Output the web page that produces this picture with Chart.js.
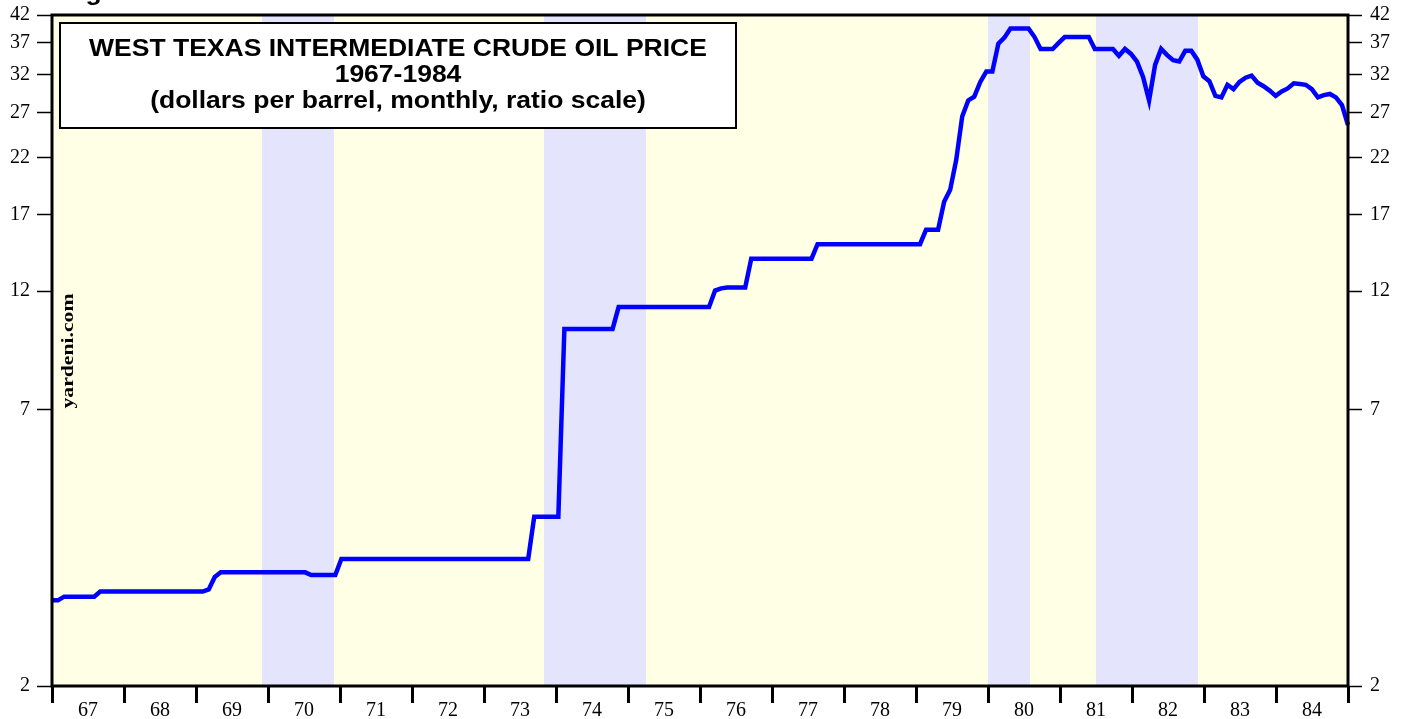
<!DOCTYPE html>
<html>
<head>
<meta charset="utf-8">
<title>West Texas Intermediate Crude Oil Price 1967-1984</title>
<script src="https://cdn.jsdelivr.net/npm/chart.js@4.4.1/dist/chart.umd.min.js"></script>
<style>
  html, body { margin: 0; padding: 0; background: #fff; overflow: hidden; }
  canvas { display: block; }
</style>
</head>
<body>
<canvas id="oilChart" width="1407" height="719"></canvas>
<script>
// tahun pada sumbu bawah
const yearLabels = ["67", "68", "69", "70", "71", "72", "73", "74", "75",
  "76", "77", "78", "79", "80", "81", "82", "83", "84"];
const firstYear = 1967;

// harga WTI bulanan (dolar per barel), Jan 1967 - Des 1984
const wtiPrice = [
  2.95, 2.95, 3.00, 3.00, 3.00, 3.00, 3.00, 3.00, 3.07, 3.07, 3.07, 3.07,       // 1967
  3.07, 3.07, 3.07, 3.07, 3.07, 3.07, 3.07, 3.07, 3.07, 3.07, 3.07, 3.07,       // 1968
  3.07, 3.07, 3.10, 3.28, 3.35, 3.35, 3.35, 3.35, 3.35, 3.35, 3.35, 3.35,       // 1969
  3.35, 3.35, 3.35, 3.35, 3.35, 3.35, 3.35, 3.31, 3.31, 3.31, 3.31, 3.31,       // 1970
  3.56, 3.56, 3.56, 3.56, 3.56, 3.56, 3.56, 3.56, 3.56, 3.56, 3.56, 3.56,       // 1971
  3.56, 3.56, 3.56, 3.56, 3.56, 3.56, 3.56, 3.56, 3.56, 3.56, 3.56, 3.56,       // 1972
  3.56, 3.56, 3.56, 3.56, 3.56, 3.56, 3.56, 3.56, 4.31, 4.31, 4.31, 4.31,       // 1973
  4.31, 10.11, 10.11, 10.11, 10.11, 10.11, 10.11, 10.11, 10.11, 10.11, 11.16, 11.16, // 1974
  11.16, 11.16, 11.16, 11.16, 11.16, 11.16, 11.16, 11.16, 11.16, 11.16, 11.16, 11.16, // 1975
  11.16, 11.16, 12.03, 12.15, 12.20, 12.20, 12.20, 12.20, 13.90, 13.90, 13.90, 13.90, // 1976
  13.90, 13.90, 13.90, 13.90, 13.90, 13.90, 13.90, 14.85, 14.85, 14.85, 14.85, 14.85, // 1977
  14.85, 14.85, 14.85, 14.85, 14.85, 14.85, 14.85, 14.85, 14.85, 14.85, 14.85, 14.85, // 1978
  14.85, 15.85, 15.85, 15.85, 18.00, 19.00, 21.75, 26.50, 28.50, 29.00, 31.00, 32.50, // 1979
  32.50, 36.90, 37.90, 39.50, 39.50, 39.50, 39.50, 38.00, 36.00, 36.00, 36.00, 37.00, // 1980
  38.00, 38.00, 38.00, 38.00, 38.00, 36.00, 36.00, 36.00, 36.00, 34.90, 36.00, 35.20, // 1981
  34.00, 31.70, 28.50, 33.50, 36.00, 35.00, 34.20, 34.00, 35.70, 35.70, 34.30, 31.80, // 1982
  31.10, 29.10, 28.90, 30.60, 30.00, 31.00, 31.60, 31.90, 30.90, 30.40, 29.80, 29.10, // 1983
  29.70, 30.10, 30.80, 30.70, 30.60, 30.00, 28.90, 29.20, 29.35, 28.90, 27.90, 25.50  // 1984
];

// label skala rasio
const yTicks = [2, 7, 12, 17, 22, 27, 32, 37, 42];

// resesi (bulan awal, bulan akhir)
const recessions = [
  ["1969-12", "1970-11"],
  ["1973-11", "1975-03"],
  ["1980-01", "1980-07"],
  ["1981-07", "1982-11"],
];

const titleLines = [
  "WEST TEXAS INTERMEDIATE CRUDE OIL PRICE",
  "1967-1984",
  "(dollars per barrel, monthly, ratio scale)",
];

// label kategori bulanan
const monthLabels = [];
yearLabels.forEach((_, yi) => {
  for (let m = 1; m <= 12; m++) {
    monthLabels.push(`${firstYear + yi}-${String(m).padStart(2, "0")}`);
  }
});

// "1969-12" -> tahun sejak 1967 (awal bulan)
const monthToYears = (s) => {
  const [y, m] = s.split("-").map(Number);
  return y - firstYear + (m - 1) / 12;
};

const serif = "'Liberation Serif', 'Times New Roman', serif";
const sans = "'Liberation Sans', Arial, sans-serif";

const chartDecor = {
  id: "chartDecor",
  beforeDraw(chart) {
    const { ctx, chartArea: a, scales } = chart;
    ctx.save();
    ctx.fillStyle = "#ffffff";
    ctx.fillRect(0, 0, chart.width, chart.height);
    ctx.fillStyle = "rgb(255,255,230)";
    ctx.fillRect(a.left, a.top, a.right - a.left, a.bottom - a.top);
    ctx.fillStyle = "rgb(228,228,252)";
    recessions.forEach(([s, e]) => {
      const x0 = scales.xYear.getPixelForValue(monthToYears(s));
      const x1 = scales.xYear.getPixelForValue(monthToYears(e) + 1 / 12);
      ctx.fillRect(x0, a.top, x1 - x0, a.bottom - a.top);
    });
    ctx.restore();
  },
  afterDraw(chart) {
    const { ctx, chartArea: a } = chart;
    ctx.save();

    // bingkai area plot
    ctx.strokeStyle = "#000";
    ctx.lineWidth = 3;
    ctx.strokeRect(a.left, a.top, a.right - a.left, a.bottom - a.top);

    // kotak judul
    const bx = a.left + 8, by = a.top + 8, bw = 676, bh = 105;
    ctx.fillStyle = "#fff";
    ctx.fillRect(bx, by, bw, bh);
    ctx.lineWidth = 2;
    ctx.strokeRect(bx, by, bw, bh);

    ctx.fillStyle = "#000";
    ctx.font = `bold 23px ${sans}`;
    ctx.textAlign = "center";
    ctx.textBaseline = "alphabetic";
    const cx = bx + bw / 2;
    [by + 33, by + 59, by + 85].forEach((ty, i) => {
      ctx.save();
      ctx.translate(cx, ty);
      ctx.scale(1.152, 1);
      ctx.fillText(titleLines[i], 0, 0);
      ctx.restore();
    });

    // sisa teks "Figure" yang terpotong di atas
    ctx.save();
    ctx.textAlign = "left";
    ctx.translate(a.left + 10, 0);
    ctx.scale(1.152, 1);
    ctx.fillText("Figure", 0, 0);
    ctx.restore();

    // watermark vertikal
    ctx.save();
    ctx.font = `bold 17px ${serif}`;
    ctx.textAlign = "center";
    ctx.translate(a.left + 21, 351);
    ctx.rotate(-Math.PI / 2);
    const w = ctx.measureText("yardeni.com").width;
    ctx.scale(115 / w, 1);
    ctx.fillText("yardeni.com", 0, 0);
    ctx.restore();

    ctx.restore();
  },
};

const yAxis = (position, width) => ({
  type: "logarithmic",
  position,
  min: 2,
  max: 42,
  afterBuildTicks: (scale) => {
    scale.ticks = yTicks.map((v) => ({ value: v }));
  },
  afterFit: (scale) => {
    scale.width = width;
    scale.paddingTop = 0;
    scale.paddingBottom = 0;
  },
  ticks: {
    autoSkip: false,
    color: "#000",
    padding: position === "left" ? 7 : 8,
    font: { family: serif, size: 20 },
    callback: (v) => String(v),
  },
  grid: {
    drawOnChartArea: false,
    drawTicks: true,
    tickLength: position === "left" ? 15 : 14,
    tickWidth: 1.5,
    tickColor: "#000",
  },
  border: { display: false },
});

const ctx = document.getElementById("oilChart").getContext("2d");

new Chart(ctx, {
  type: "line",
  data: {
    labels: monthLabels,
    datasets: [
      {
        label: "WTI",
        data: wtiPrice,
        borderColor: "#0000ff",
        borderWidth: 4.5,
        pointRadius: 0,
        tension: 0,
        fill: false,
        xAxisID: "x",
        yAxisID: "y",
      },
    ],
  },
  options: {
    responsive: false,
    animation: false,
    devicePixelRatio: 1,
    events: [],
    layout: { padding: { top: 15, left: 0, right: 0, bottom: 0 } },
    plugins: {
      legend: { display: false },
      tooltip: { enabled: false },
    },
    scales: {
      x: { type: "category", display: false, offset: false },
      xYear: {
        type: "linear",
        axis: "x",
        position: "bottom",
        min: 0,
        max: yearLabels.length,
        afterBuildTicks: (scale) => {
          const t = [];
          for (let k = 0; k <= yearLabels.length * 2; k++) t.push({ value: k / 2 });
          scale.ticks = t;
        },
        afterFit: (scale) => {
          scale.height = 33;
          scale.paddingLeft = 0;
          scale.paddingRight = 0;
        },
        ticks: {
          autoSkip: false,
          maxRotation: 0,
          color: "#000",
          padding: -4,
          font: { family: serif, size: 20 },
          callback: (v) => (Number.isInteger(v) ? "" : yearLabels[Math.floor(v)]),
        },
        grid: {
          drawOnChartArea: false,
          drawTicks: true,
          tickLength: 17,
          tickWidth: 3,
          tickColor: (c) =>
            c.tick && Number.isInteger(c.tick.value) ? "#000" : "rgba(0,0,0,0)",
        },
        border: { display: false },
      },
      y: yAxis("left", 52),
      y2: yAxis("right", 59),
    },
  },
  plugins: [chartDecor],
});
</script>
</body>
</html>
